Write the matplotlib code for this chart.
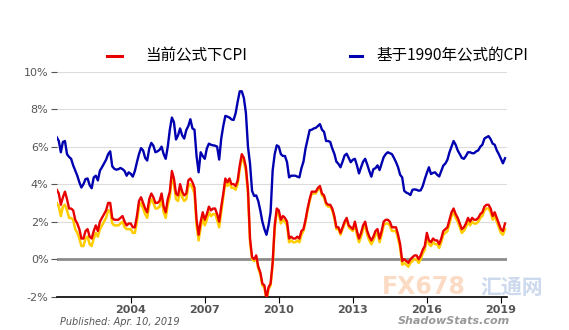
"""Official CPI vs 1990-based alternate CPI, year-over-year."""
import matplotlib
matplotlib.use("Agg")
import matplotlib.pyplot as plt
from matplotlib.lines import Line2D
import numpy as np

plt.rcParams["font.family"] = ["Noto Sans CJK SC", "DejaVu Sans"]

# monthly data, Jan 2001 .. Mar 2019 (%)
start_year = 2001
official_cpi = [
    3.7, 3.5, 2.9, 3.3, 3.6, 3.2, 2.7, 2.7, 2.6, 2.1, 1.9, 1.6,
    1.1, 1.1, 1.5, 1.6, 1.2, 1.1, 1.5, 1.8, 1.5, 2.0, 2.2, 2.4,
    2.6, 3.0, 3.0, 2.2, 2.1, 2.1, 2.1, 2.2, 2.3, 2.0, 1.8, 1.9,
    1.9, 1.7, 1.7, 2.3, 3.1, 3.3, 3.0, 2.7, 2.5, 3.2, 3.5, 3.3,
    3.0, 3.0, 3.1, 3.5, 2.8, 2.5, 3.2, 3.6, 4.7, 4.3, 3.5, 3.4,
    4.0, 3.6, 3.4, 3.5, 4.2, 4.3, 4.1, 3.8, 2.1, 1.3, 2.0, 2.5,
    2.1, 2.4, 2.8, 2.6, 2.7, 2.7, 2.4, 2.0, 2.8, 3.5, 4.3, 4.1,
    4.3, 4.0, 4.0, 3.9, 4.2, 5.0, 5.6, 5.4, 4.9, 3.7, 1.1, 0.1,
    0.0, 0.2, -0.4, -0.7, -1.3, -1.4, -2.1, -1.5, -1.3, -0.2, 1.8, 2.7,
    2.6, 2.1, 2.3, 2.2, 2.0, 1.1, 1.2, 1.1, 1.1, 1.2, 1.1, 1.5,
    1.6, 2.1, 2.7, 3.2, 3.6, 3.6, 3.6, 3.8, 3.9, 3.5, 3.4, 3.0,
    2.9, 2.9, 2.7, 2.3, 1.7, 1.7, 1.4, 1.7, 2.0, 2.2, 1.8, 1.7,
    1.6, 2.0, 1.5, 1.1, 1.4, 1.8, 2.0, 1.5, 1.2, 1.0, 1.2, 1.5,
    1.6, 1.1, 1.5, 2.0, 2.1, 2.1, 2.0, 1.7, 1.7, 1.7, 1.3, 0.8,
    -0.1, 0.0, -0.1, -0.2, 0.0, 0.1, 0.2, 0.2, 0.0, 0.2, 0.5, 0.7,
    1.4, 1.0, 0.9, 1.1, 1.0, 1.0, 0.8, 1.1, 1.5, 1.6, 1.7, 2.1,
    2.5, 2.7, 2.4, 2.2, 1.9, 1.6, 1.7, 1.9, 2.2, 2.0, 2.2, 2.1,
    2.1, 2.2, 2.4, 2.5, 2.8, 2.9, 2.9, 2.7, 2.3, 2.5, 2.2, 1.9,
    1.6, 1.5, 1.9,
]
# yellow line under the red one
lower_cpi = [
    3.0, 2.8, 2.3, 2.8, 2.9, 2.6, 2.2, 2.2, 2.1, 1.6, 1.4, 1.1,
    0.7, 0.7, 1.1, 1.2, 0.8, 0.7, 1.1, 1.4, 1.2, 1.6, 1.8, 2.0,
    2.2, 2.6, 2.6, 1.9, 1.8, 1.8, 1.8, 1.9, 2.0, 1.7, 1.6, 1.6,
    1.6, 1.4, 1.4, 2.0, 2.8, 3.0, 2.7, 2.4, 2.2, 2.9, 3.2, 3.0,
    2.7, 2.7, 2.8, 3.2, 2.5, 2.2, 2.9, 3.3, 4.4, 4.0, 3.2, 3.1,
    3.7, 3.3, 3.1, 3.2, 3.9, 4.0, 3.8, 3.5, 1.8, 1.0, 1.7, 2.2,
    1.8, 2.1, 2.5, 2.3, 2.4, 2.4, 2.1, 1.7, 2.5, 3.3, 4.1, 3.9,
    4.1, 3.8, 3.8, 3.7, 4.0, 4.8, 5.4, 5.2, 4.7, 3.5, 0.9, 0.0,
    -0.1, 0.1, -0.5, -0.8, -1.4, -1.5, -2.2, -1.6, -1.4, -0.3, 1.6, 2.5,
    2.4, 1.9, 2.1, 2.0, 1.8, 0.9, 1.0, 0.9, 0.9, 1.0, 0.9, 1.3,
    1.5, 2.0, 2.6, 3.1, 3.5, 3.5, 3.5, 3.7, 3.8, 3.4, 3.3, 2.9,
    2.8, 2.8, 2.6, 2.2, 1.6, 1.6, 1.3, 1.6, 1.9, 2.1, 1.7, 1.6,
    1.5, 1.9, 1.3, 0.9, 1.2, 1.6, 1.8, 1.3, 1.0, 0.8, 1.0, 1.3,
    1.4, 0.9, 1.3, 1.8, 1.9, 1.9, 1.8, 1.5, 1.5, 1.5, 1.1, 0.6,
    -0.3, -0.2, -0.3, -0.4, -0.2, -0.1, 0.0, 0.0, -0.2, 0.0, 0.3, 0.5,
    1.2, 0.8, 0.7, 0.9, 0.8, 0.8, 0.6, 0.9, 1.3, 1.4, 1.5, 1.9,
    2.3, 2.5, 2.2, 2.0, 1.7, 1.4, 1.5, 1.7, 2.0, 1.8, 2.0, 1.9,
    1.9, 2.0, 2.2, 2.3, 2.6, 2.7, 2.7, 2.5, 2.1, 2.3, 2.0, 1.7,
    1.4, 1.3, 1.6,
]
alt_1990_cpi = [
    6.5, 6.3, 5.7, 6.25, 6.3, 5.6, 5.45, 5.35, 5.0, 4.72, 4.45, 4.1,
    3.82, 4.0, 4.27, 4.3, 3.95, 3.78, 4.36, 4.45, 4.2, 4.72, 4.9, 5.1,
    5.3, 5.6, 5.75, 4.95, 4.82, 4.77, 4.8, 4.86, 4.8, 4.7, 4.45, 4.63,
    4.55, 4.4, 4.7, 5.17, 5.6, 5.92, 5.8, 5.4, 5.26, 5.9, 6.2, 6.05,
    5.7, 5.75, 5.83, 6.0, 5.6, 5.35, 6.0, 6.9, 7.55, 7.3, 6.38, 6.6,
    6.97, 6.6, 6.43, 6.88, 7.1, 7.46, 6.97, 6.9, 5.5, 4.63, 5.7, 5.5,
    5.35, 5.9, 6.16, 6.1, 6.07, 6.05, 6.0, 5.31, 6.43, 7.1, 7.64, 7.6,
    7.55, 7.45, 7.42, 7.78, 8.4, 8.95, 8.95, 8.6, 7.8, 6.0, 5.08, 3.64,
    3.37, 3.4, 3.1, 2.6, 2.0, 1.6, 1.3, 1.8, 2.5, 4.72, 5.6, 6.07,
    6.0, 5.6, 5.5, 5.5, 5.17, 4.36, 4.45, 4.45, 4.45, 4.4, 4.36, 4.85,
    5.2, 5.9, 6.4, 6.88, 6.9, 6.97, 7.0, 7.1, 7.2, 6.9, 6.79, 6.3,
    6.3, 6.25, 5.9, 5.62, 5.2, 5.08, 4.9, 5.2, 5.53, 5.62, 5.4, 5.17,
    5.3, 5.35, 5.0, 4.57, 4.9, 5.2, 5.35, 5.05, 4.7, 4.4, 4.8, 4.85,
    5.0, 4.75, 5.1, 5.44, 5.6, 5.7, 5.65, 5.6, 5.4, 5.17, 4.9, 4.5,
    4.36, 3.64, 3.55, 3.5, 3.42, 3.7, 3.72, 3.7, 3.65, 3.67, 3.9, 4.27,
    4.6, 4.9, 4.54, 4.6, 4.63, 4.5, 4.41, 4.7, 4.99, 5.1, 5.3, 5.7,
    6.0, 6.3, 6.1, 5.8, 5.6, 5.4, 5.35, 5.5, 5.7, 5.7, 5.65, 5.65,
    5.75, 5.8, 6.0, 6.1, 6.43, 6.5, 6.56, 6.4, 6.16, 6.1, 5.8, 5.6,
    5.35, 5.11, 5.38,
]
series_labels = ["当前公式下CPI", "基于1990年公式的CPI"]
year_ticks = [2004, 2007, 2010, 2013, 2016, 2019]
pct_ticks = [-2, 0, 2, 4, 6, 8, 10]

years = start_year + np.arange(len(official_cpi)) / 12.0
red = "#e80000"
blue = "#0000b0"

fig = plt.figure(figsize=(5.69, 3.30), dpi=100)
ax = fig.add_axes([0.0997, 0.101, 0.791, 0.682])

# grid
for v in pct_ticks[1:]:
    ax.axhline(v, color="#dcdcdc", lw=0.8, zorder=0)
ax.axhline(0, color="#8c8c8c", lw=2.0, zorder=1)

ax.plot(years, lower_cpi, color="#ffcc00", lw=1.8, zorder=2)
ax.plot(years, official_cpi, color=red, lw=1.7, zorder=3)
ax.plot(years, alt_1990_cpi, color=blue, lw=1.7, zorder=3)

ax.set_xlim(2001.0, 2019.24)
ax.set_ylim(-2, 10)
ax.set_xticks(year_ticks)
ax.set_xticklabels([str(y) for y in year_ticks], fontweight="bold",
                   color="#555555", fontsize=8, family=["DejaVu Sans"])
ax.set_yticks(pct_ticks)
ax.set_yticklabels([f"{v}%" for v in pct_ticks], color="#555555", fontsize=8,
                   family=["DejaVu Sans"])
ax.tick_params(axis="x", length=4, color="black", pad=2)
ax.tick_params(axis="y", length=4, color="#555555", pad=2)

for side in ["top", "right", "left"]:
    ax.spines[side].set_visible(False)
ax.spines["bottom"].set_color("black")
ax.spines["bottom"].set_linewidth(1.2)

# legend drawn by hand to match the uneven spacing
fig.add_artist(Line2D([0.188, 0.2144], [0.830, 0.830], color=red, lw=2.2))
fig.text(0.2548, 0.830, series_labels[0], fontsize=11.2, va="center")
fig.add_artist(Line2D([0.615, 0.636], [0.830, 0.830], color=blue, lw=2.2))
fig.text(0.661, 0.830, series_labels[1], fontsize=11.2, va="center")

fig.text(0.105, 0.024, "Published: Apr. 10, 2019", fontsize=7, style="italic",
         color="#555555", va="center", family=["DejaVu Sans"])
fig.text(0.896, 0.027, "ShadowStats.com", fontsize=8, style="italic",
         fontweight="bold", color="#999999", ha="right", va="center",
         family=["DejaVu Sans"])

# watermark
fig.text(0.745, 0.13, "FX678", fontsize=17, color="#f9b98a", alpha=0.5,
         ha="center", va="center", fontweight="bold", family=["DejaVu Sans"])
fig.text(0.9, 0.13, "汇通网", fontsize=15, color="#9cb4dc", alpha=0.5,
         ha="center", va="center", fontweight="bold")

fig.savefig("out.png", dpi=100)
